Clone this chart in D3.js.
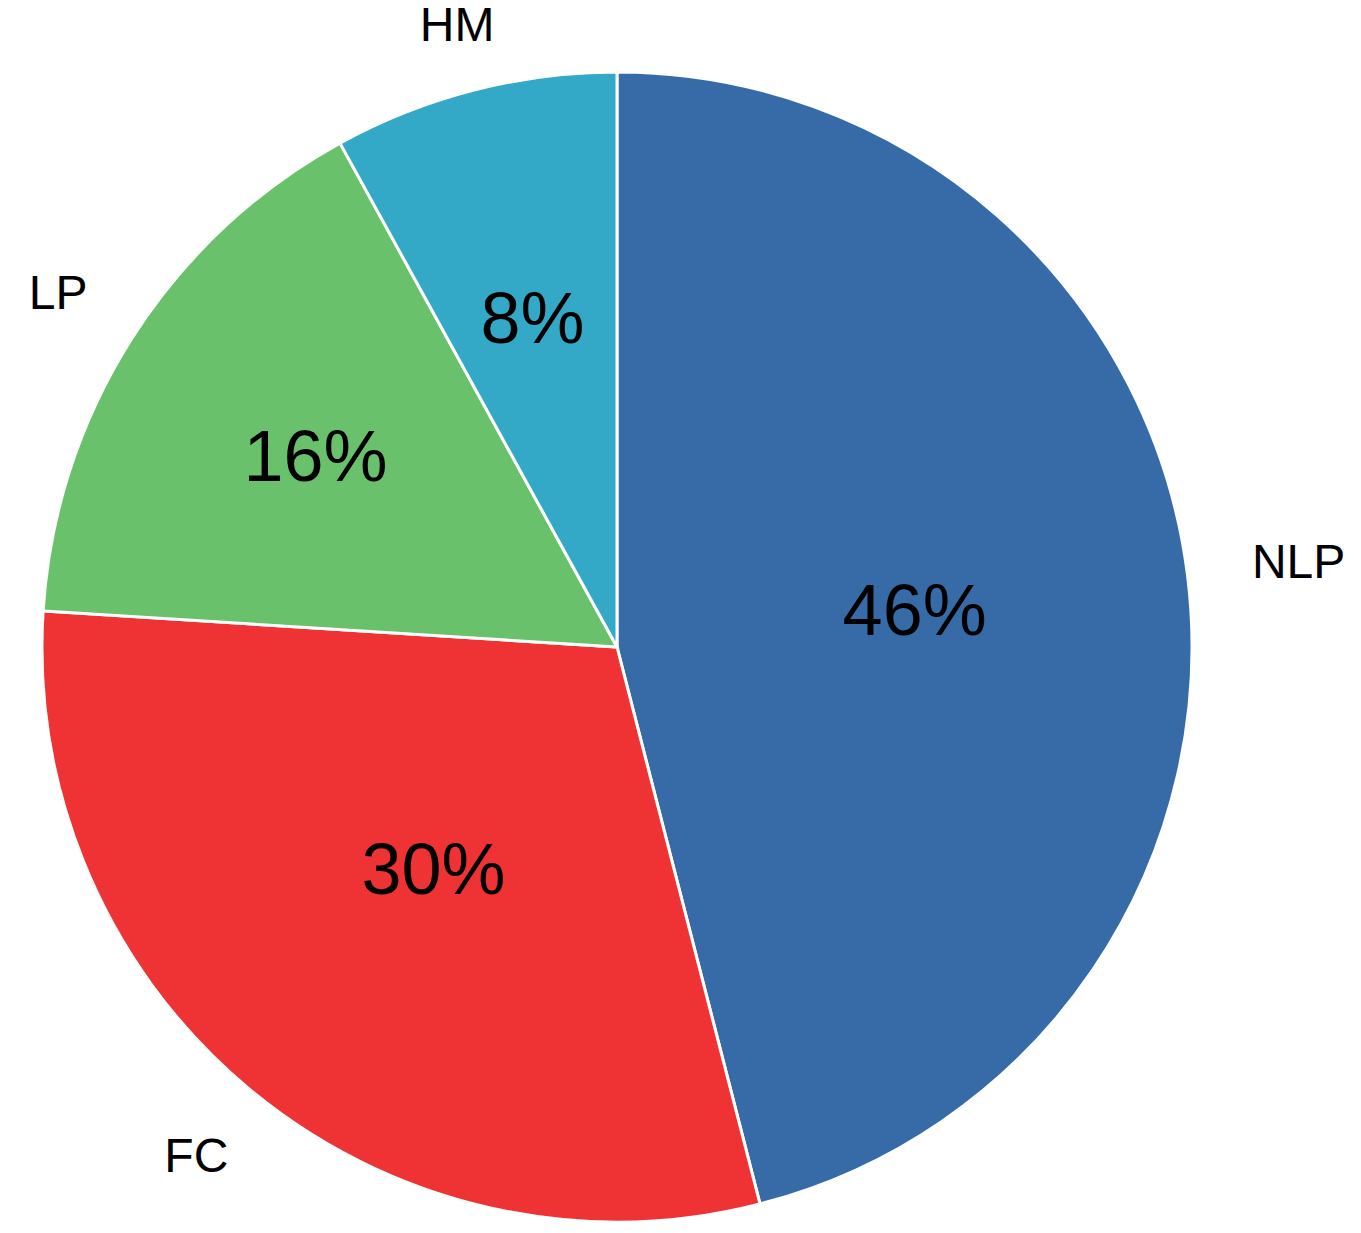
<!DOCTYPE html>
<html><head><meta charset="utf-8">
<script src="https://cdn.jsdelivr.net/npm/d3@7"></script>
<style>body{margin:0;background:#fff}</style>
</head><body>
<svg id="chart" width="1361" height="1233"></svg>
<script>
var categories = ["NLP", "FC", "LP", "HM"];
var values = [46, 30, 16, 8];
var colors = ["#366BA8", "#EF3234", "#69C26B", "#33A9C7"];
// label placement radii (layout only)
var pctRadius = [300, 288, 357, 340];
var catRadius = [687, 660, 662, 643];

var svg = d3.select("#chart");
var cx = 617, cy = 647, R = 575;
var g = svg.append("g").attr("transform", "translate(" + cx + "," + cy + ")");

var pie = d3.pie().sort(null).value(function(d) { return d; });
var arcs = pie(values);
var arc = d3.arc().innerRadius(0).outerRadius(R);

function at(d, r) {
    return d3.arc().innerRadius(r).outerRadius(r).centroid(d);
}

g.selectAll("path").data(arcs).enter().append("path")
    .attr("d", arc)
    .attr("fill", function(d, i) { return colors[i]; })
    .attr("stroke", "#fff").attr("stroke-width", 3);

g.selectAll("text.pct").data(arcs).enter().append("text")
    .attr("class", "pct")
    .attr("transform", function(d, i) { return "translate(" + at(d, pctRadius[i]) + ")"; })
    .attr("text-anchor", "middle").attr("dy", "0.35em")
    .attr("font-family", "Liberation Sans, Arial, sans-serif").attr("font-size", 72)
    .text(function(d) { return d.data + "%"; });

g.selectAll("text.cat").data(arcs).enter().append("text")
    .attr("class", "cat")
    .attr("transform", function(d, i) { return "translate(" + at(d, catRadius[i]) + ")"; })
    .attr("text-anchor", "middle").attr("dy", "0.35em")
    .attr("font-family", "Liberation Sans, Arial, sans-serif").attr("font-size", 48)
    .text(function(d, i) { return categories[i]; });
</script>
</body></html>
